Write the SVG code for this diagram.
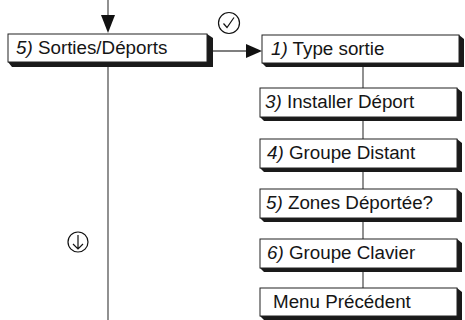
<svg xmlns="http://www.w3.org/2000/svg" width="465" height="320" viewBox="0 0 465 320">
<style>
.box{fill:#fff;stroke:#222;stroke-width:1}
.sh{fill:#1a1a1a}
.t{font-family:"Liberation Sans",Arial,sans-serif;font-size:18.8px;fill:#151515}
.n{font-style:italic}
.ln{stroke:#555;stroke-width:1.3;fill:none}
.ic{fill:none;stroke:#111;stroke-width:1.2}
</style>
<rect width="465" height="320" fill="#fff"/>
<g id="connectors">
<line class="ln" x1="108" y1="0" x2="108" y2="16"/>
<polygon points="101,15 115,15 108,33" fill="#111"/>
<line class="ln" x1="108" y1="67" x2="108" y2="320"/>
<line class="ln" x1="213" y1="51" x2="248" y2="51"/>
<polygon points="246,44 246,58 262,51" fill="#111"/>
<line class="ln" x1="363" y1="67" x2="363" y2="88"/>
<line class="ln" x1="363" y1="121" x2="363" y2="139"/>
<line class="ln" x1="363" y1="172" x2="363" y2="189"/>
<line class="ln" x1="363" y1="222" x2="363" y2="239"/>
<line class="ln" x1="363" y1="272" x2="363" y2="288"/>
</g>
<g id="icon-ok">
<circle class="ic" cx="229" cy="23" r="10.5"/>
<path class="ic" d="M223.5,23.5 L227,27.5 L234,17.5" stroke-width="1.6"/>
</g>
<g id="icon-down">
<circle class="ic" cx="78" cy="242" r="10"/>
<path class="ic" d="M78,235 V249 M73,244 L78,249 L83,244" stroke-width="1.6"/>
</g>
<g id="n-sorties">
<polygon class="sh" points="207,34 213,38 213,67 12,67 8,62 207,62"/>
<rect class="box" x="8" y="34" width="199" height="28"/>
<text class="t" x="16" y="54"><tspan class="n">5)</tspan> Sorties/Déports</text>
</g>
<g id="n-type">
<polygon class="sh" points="459,35 464,39 464,67 266,67 262,63 459,63"/>
<rect class="box" x="262" y="35" width="197" height="28"/>
<text class="t" x="271" y="55"><tspan class="n">1)</tspan> Type sortie</text>
</g>
<g id="n-installer">
<polygon class="sh" points="457,88 462,92 462,121 264,121 260,117 457,117"/>
<rect class="box" x="260" y="88" width="197" height="29"/>
<text class="t" x="265" y="108"><tspan class="n">3)</tspan> Installer Déport</text>
</g>
<g id="n-distant">
<polygon class="sh" points="457,139 462,143 462,172 264,172 260,168 457,168"/>
<rect class="box" x="260" y="139" width="197" height="29"/>
<text class="t" x="267" y="159"><tspan class="n">4)</tspan> Groupe Distant</text>
</g>
<g id="n-zones">
<polygon class="sh" points="457,189 462,193 462,222 264,222 260,218 457,218"/>
<rect class="box" x="260" y="189" width="197" height="29"/>
<text class="t" x="266" y="209"><tspan class="n">5)</tspan> Zones Déportée?</text>
</g>
<g id="n-clavier">
<polygon class="sh" points="457,239 462,243 462,272 264,272 260,268 457,268"/>
<rect class="box" x="260" y="239" width="197" height="29"/>
<text class="t" x="267" y="259"><tspan class="n">6)</tspan> Groupe Clavier</text>
</g>
<g id="n-menu">
<polygon class="sh" points="457,288 462,292 462,320 264,320 260,316 457,316"/>
<rect class="box" x="260" y="288" width="197" height="28"/>
<text class="t" x="273" y="308">Menu Précédent</text>
</g>
</svg>
